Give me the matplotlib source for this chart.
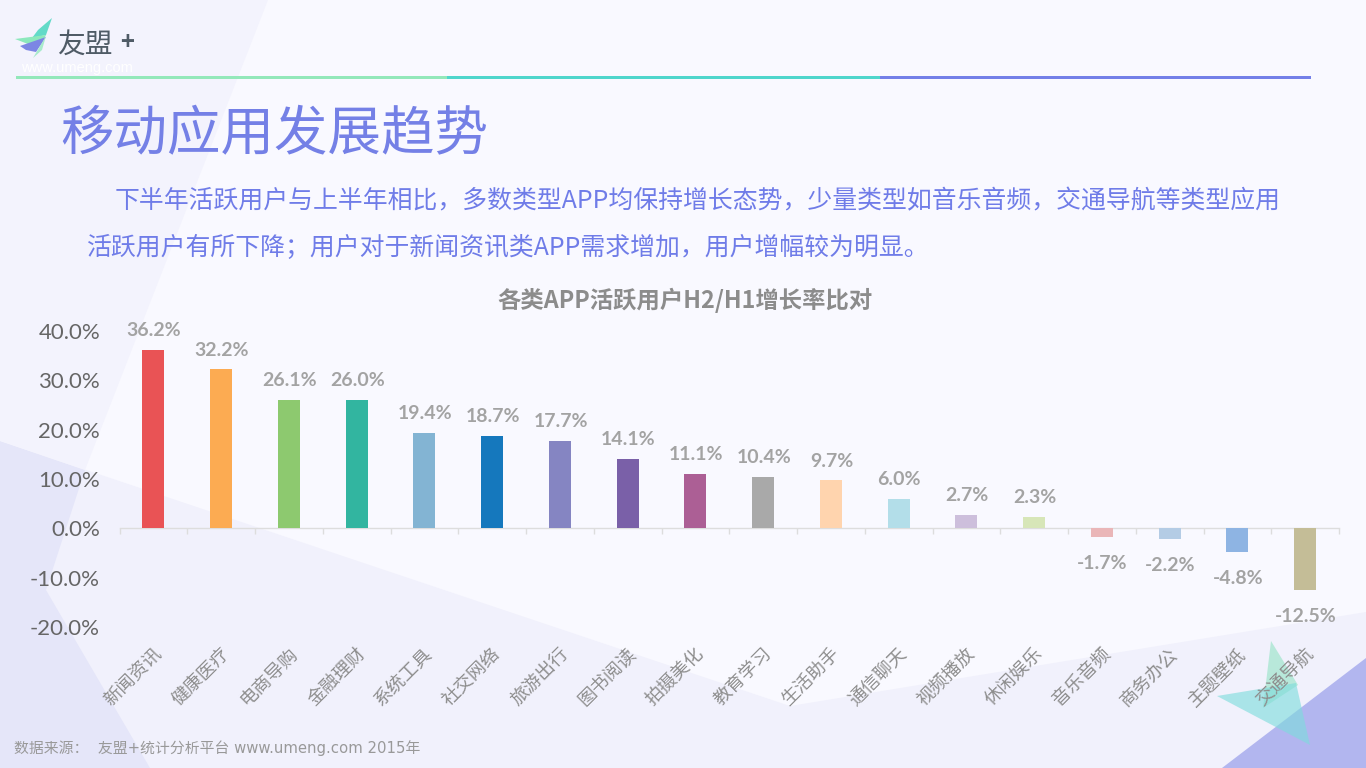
import matplotlib
matplotlib.use("Agg")
import matplotlib.pyplot as plt
from matplotlib.patches import Polygon, Rectangle
from matplotlib.ticker import FuncFormatter

CJK = ['Noto Sans CJK SC', 'DejaVu Sans']
plt.rcParams['font.family'] = CJK

categories = ['新闻资讯', '健康医疗', '电商导购', '金融理财', '系统工具', '社交网络',
              '旅游出行', '图书阅读', '拍摄美化', '教育学习', '生活助手', '通信聊天',
              '视频播放', '休闲娱乐', '音乐音频', '商务办公', '主题壁纸', '交通导航']
values = [36.2, 32.2, 26.1, 26.0, 19.4, 18.7, 17.7, 14.1, 11.1, 10.4, 9.7, 6.0,
          2.7, 2.3, -1.7, -2.2, -4.8, -12.5]
bar_colors = ['#E95355', '#FCAB52', '#8DC96F', '#32B5A0', '#83B4D3', '#1578BD',
              '#8585C2', '#7A60A8', '#AC5F95', '#A9A9A9', '#FFD4AE', '#B3DEE9',
              '#CDBFDC', '#D7E6B8', '#EAB6B8', '#B4CCE5', '#8EB4E3', '#C4BD97']
y_ticks = [-20, -10, 0, 10, 20, 30, 40]

title = '移动应用发展趋势'
body1 = '下半年活跃用户与上半年相比，多数类型APP均保持增长态势，少量类型如音乐音频，交通导航等类型应用'
body2 = '活跃用户有所下降；用户对于新闻资讯类APP需求增加，用户增幅较为明显。'
chart_title = '各类APP活跃用户H2/H1增长率比对'
source = '数据来源：  友盟+统计分析平台 www.umeng.com 2015年'

fig = plt.figure(figsize=(13.66, 7.68), dpi=100, facecolor='#F9F9FF')

# decorative background, in pixel coordinates
bg = fig.add_axes([0, 0, 1, 1])
bg.set_xlim(0, 1366)
bg.set_ylim(768, 0)
bg.axis('off')


def poly(pts, color, alpha=1.0, z=1):
    bg.add_patch(Polygon(pts, closed=True, facecolor=color, edgecolor='none', alpha=alpha, zorder=z))


poly([(0, 441), (790, 706), (1366, 612), (1366, 768), (0, 768)], '#F1F1FC', z=1)
poly([(0, 441), (85, 470), (46, 590), (150, 768), (0, 768)], '#E5E6F9', z=2)
poly([(0, 0), (268, 0), (85, 470), (0, 441)], '#F3F3FD', z=2)
poly([(1222, 768), (1366, 658), (1366, 768)], '#B2B6EF', z=3)
poly([(1271, 641), (1298, 685), (1263, 708)], '#A6E6CF', alpha=0.75, z=4)
poly([(1217, 696), (1296, 683), (1310, 745)], '#7EDCDC', alpha=0.62, z=5)

# logo
poly([(52, 18), (38, 30), (32, 38), (46, 35)], '#62DAC8', z=6)
poly([(15, 39), (46, 35), (40, 46), (28, 44)], '#8CE8BC', z=6)
poly([(20, 46), (46, 37), (36, 52), (26, 50)], '#7C86E4', z=6)
poly([(33, 58), (46, 36), (42, 50)], '#A8EBCB', z=6)
bg.text(57, 45, '友盟', fontsize=20, color='#4F5B66', va='center', ha='left', zorder=7)
bg.text(120, 43, '+', fontsize=17, color='#4F5B66', va='center', ha='left', fontweight='bold', zorder=7)
bg.text(21, 68, 'www.umeng.com', fontsize=10.5, color='#FFFFFF', va='center', ha='left',
        family='Liberation Sans', zorder=7)

# header rule
bg.add_patch(Rectangle((16, 76), 431, 3, facecolor='#93E8BA', edgecolor='none', zorder=7))
bg.add_patch(Rectangle((447, 76), 433, 3, facecolor='#4FD6CC', edgecolor='none', zorder=7))
bg.add_patch(Rectangle((880, 76), 431, 3, facecolor='#7480E8', edgecolor='none', zorder=7))

bg.text(60, 135, title, fontsize=38.5, color='#7480E6', va='center', ha='left', zorder=7)
bg.text(115, 201, body1, fontsize=17.9, color='#6F7CE8', va='center', ha='left', zorder=7)
bg.text(87, 248, body2, fontsize=17.9, color='#6F7CE8', va='center', ha='left', zorder=7)
bg.text(685, 300, chart_title, fontsize=16.8, color='#8C8C8C', va='center', ha='center',
        fontweight='bold', zorder=7)
bg.text(14, 748, source, fontsize=10.7, color='#999999', va='center', ha='left',
        family=['DejaVu Sans', 'Noto Sans CJK SC'], zorder=7)

# chart
L, R, T, B = 119.5, 1339.0, 331.0, 627.0
ax = fig.add_axes([L / 1366, 1 - B / 768, (R - L) / 1366, (B - T) / 768])
ax.patch.set_alpha(0)
ax.set_xlim(-0.5, len(categories) - 0.5)
ax.set_ylim(-20, 40)
xs = list(range(len(categories)))
ax.bar(xs, values, width=0.325, color=bar_colors, zorder=3)

for side in ('top', 'left', 'right'):
    ax.spines[side].set_visible(False)
ax.spines['bottom'].set_position(('data', 0))
ax.spines['bottom'].set_color('#DDDDDD')
ax.spines['bottom'].set_linewidth(1.0)

ax.set_xticks([i - 0.5 for i in range(len(categories) + 1)])
ax.tick_params(axis='x', length=4.5, width=1, color='#DDDDDD', labelbottom=False)
ax.set_yticks(y_ticks)
ax.yaxis.set_major_formatter(FuncFormatter(lambda v, _: f'{v:.1f}%'))
ax.tick_params(axis='y', length=0, pad=14, labelsize=16, labelcolor='#666666')
for lab in ax.get_yticklabels():
    lab.set_family('Lato')

for x, v in zip(xs, values):
    off = 14 if v >= 0 else -19
    ax.annotate(f'{v:.1f}%', (x, v), xytext=(0.5, off), textcoords='offset points',
                ha='center', va='center', fontsize=14, fontweight='bold',
                color='#A3A3A3', family='Lato', zorder=5)

for x, name in zip(xs, categories):
    ax.text(x - 0.005, -23.6, name, rotation=45, rotation_mode='anchor', ha='right', va='top',
            fontsize=13.2, color='#8E8E8E', clip_on=False, zorder=5)

fig.savefig('out.png', dpi=100, facecolor=fig.get_facecolor())
